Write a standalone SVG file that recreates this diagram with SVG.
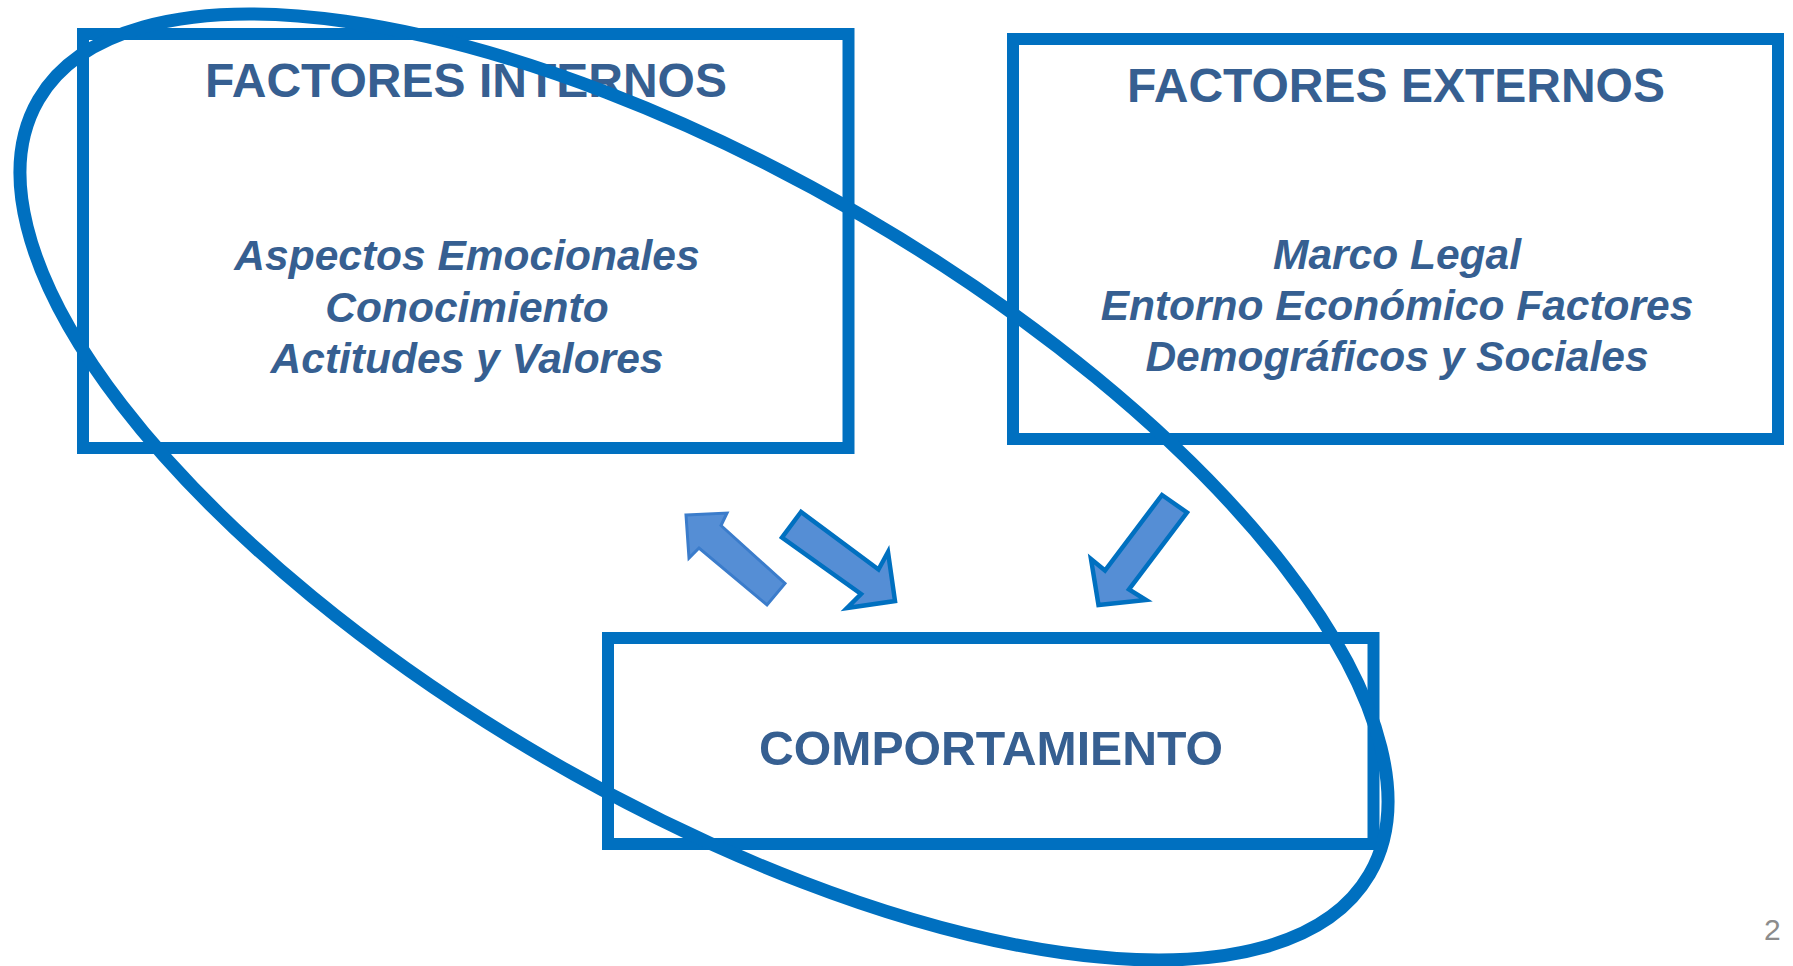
<svg xmlns="http://www.w3.org/2000/svg" width="1793" height="966" viewBox="0 0 1793 966">
<defs>
<style>
.box{fill:none;stroke:#0070C0;stroke-width:12}
.title{font-family:"Liberation Sans",Arial,sans-serif;font-weight:bold;font-size:48px;fill:#365F91;text-anchor:middle}
.item{font-family:"Liberation Sans",Arial,sans-serif;font-weight:bold;font-style:italic;font-size:42.5px;fill:#365F91;text-anchor:middle}
.arrow{fill:#558ED5;stroke:#0070C0;stroke-width:4.5;stroke-linejoin:miter}
.page{font-family:"Liberation Sans",Arial,sans-serif;font-size:30px;fill:#8C8C8C}
</style>
<filter id="soft" x="-10%" y="-10%" width="120%" height="120%"><feGaussianBlur stdDeviation="0.6"/></filter>
</defs>
<rect width="1793" height="966" fill="#FFFFFF"/>
<g id="internos">
<rect class="box" x="83" y="34" width="765.5" height="414"/>
<text class="title" x="466" y="97">FACTORES INTERNOS</text>
<text class="item" x="467" y="270">Aspectos Emocionales</text>
<text class="item" x="467" y="322">Conocimiento</text>
<text class="item" x="467" y="373">Actitudes y Valores</text>
</g>
<g id="externos">
<rect class="box" x="1013" y="39" width="765" height="400"/>
<text class="title" x="1396" y="102">FACTORES EXTERNOS</text>
<text class="item" x="1397" y="269">Marco Legal</text>
<text class="item" x="1397" y="320">Entorno Económico Factores</text>
<text class="item" x="1397" y="371">Demográficos y Sociales</text>
</g>
<g id="comportamiento">
<rect class="box" x="608" y="638" width="765.5" height="206"/>
<text class="title" x="991" y="765" textLength="464" lengthAdjust="spacingAndGlyphs">COMPORTAMIENTO</text>
</g>
<g id="connectors">
<polygon points="686,515 727,513 721,525.5 785,583.5 767,605 699,548 689,558" fill="#558ED5" stroke="#3A7CCB" stroke-width="3" filter="url(#soft)"/>
<polygon class="arrow" points="801,512 782,537.5 861,594 847,608 895,601 888,552 878.5,569.5"/>
<polygon class="arrow" points="1162,495 1187,512.5 1129,589.5 1146,600 1098.5,605 1091,559 1105,570.5"/>
</g>
<g id="highlight">
<ellipse cx="704" cy="487" rx="770" ry="314" transform="rotate(30.2 704 487)" fill="none" stroke="#0070C0" stroke-width="13"/>
</g>
<text class="page" x="1764" y="940">2</text>
</svg>
